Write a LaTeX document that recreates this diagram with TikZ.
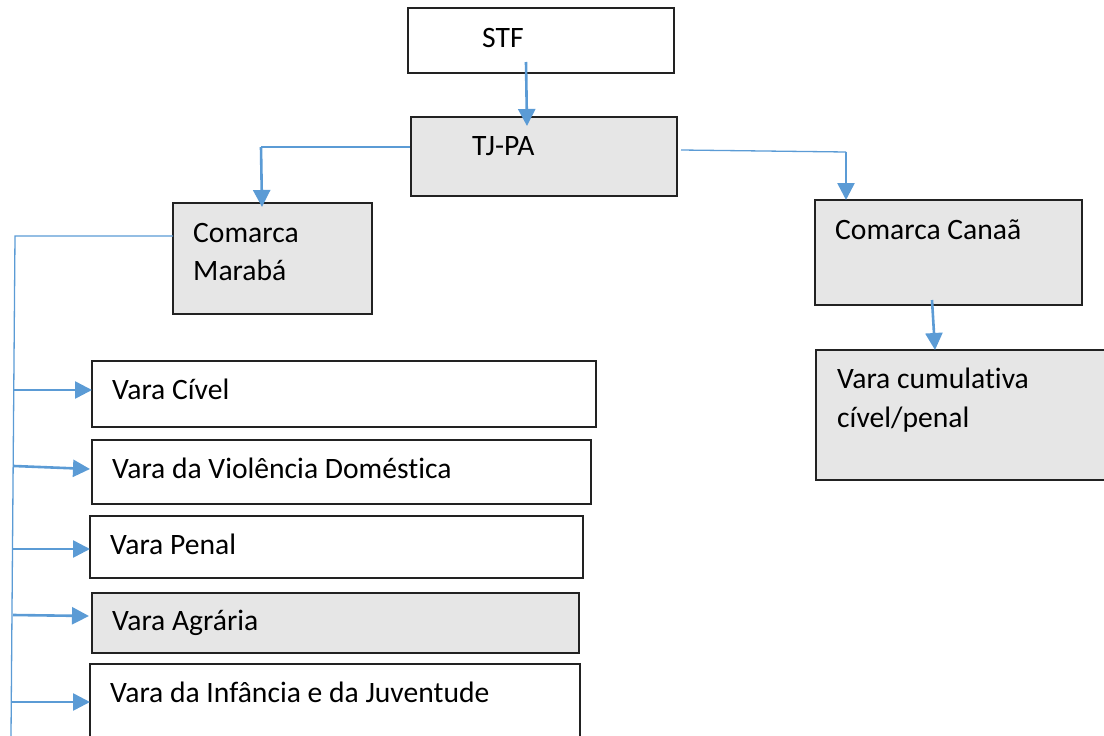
\documentclass[tikz,border=0pt]{standalone}
\usepackage{fontspec}
\setmainfont{Carlito}[Ligatures=NoCommon]
\usetikzlibrary{arrows.meta}
\definecolor{conn}{HTML}{5B9BD5}
\definecolor{boxgray}{HTML}{E6E6E6}
\definecolor{boxline}{HTML}{222222}
\begin{document}
\begin{tikzpicture}[x=1pt,y=-1pt,
  box/.style={draw=boxline,line width=1.3pt,rectangle,anchor=north west,inner sep=0pt,outer sep=0pt},
  grayfill/.style={fill=boxgray},
  txt/.style={anchor=base west,inner sep=0pt,font=\fontsize{29.6}{38}\selectfont,text=black},
  thin/.style={draw=conn,line width=1.3pt},
  arr/.style={draw=conn,line width=2.6pt,-{Triangle[length=17pt,width=17pt]}}]
\useasboundingbox (0,0) rectangle (1104,736);
\clip (0,0) rectangle (1104,736);
% boxes
\node[box,minimum width=266pt,minimum height=65pt] (stf) at (408,8) {};
\node[box,grayfill,minimum width=266pt,minimum height=79pt] (tjpa) at (411,117) {};
\node[box,grayfill,minimum width=199pt,minimum height=111pt] (maraba) at (173,203) {};
\node[box,grayfill,minimum width=267pt,minimum height=105pt] (canaa) at (815,200) {};
\node[box,grayfill,minimum width=320pt,minimum height=130pt] (cumul) at (816,350) {};
\node[box,minimum width=504pt,minimum height=66pt] (civel) at (92,361) {};
\node[box,minimum width=499pt,minimum height=64pt] (violencia) at (92,440) {};
\node[box,minimum width=493pt,minimum height=62pt] (penal) at (90,516) {};
\node[box,grayfill,minimum width=487pt,minimum height=60pt] (agraria) at (92,593) {};
\node[box,minimum width=490pt,minimum height=120pt] (infancia) at (90,664) {};
% texts
\node[txt] (tstf) at (482,47) {STF};
\node[txt] (ttjpa) at (472,155) {TJ-PA};
\node[txt] (tmar1) at (193,242) {Comarca};
\node[txt] (tmar2) at (193,280) {Marabá};
\node[txt] (tcan) at (835,239) {Comarca Canaã};
\node[txt] (tcum1) at (837,388) {Vara cumulativa};
\node[txt] (tcum2) at (837,427) {cível/penal};
\node[txt] (tciv) at (112,399) {Vara Cível};
\node[txt] (tvio) at (112,478) {Vara da Violência Domést\kern0pt ica};
\node[txt] (tpen) at (110,554) {Vara Penal};
\node[txt] (tagr) at (112,630) {Vara Agrária};
\node[txt] (tinf) at (110,702) {Vara da Infância e da Juventude};
% connector points
\coordinate (s1) at (526,62);
\coordinate (s2) at (527,126);
\coordinate (l0) at (410,147);
\coordinate (l1) at (261,147);
\coordinate (l2) at (262,207);
\coordinate (r0) at (681,150);
\coordinate (r1) at (846,152);
\coordinate (r2) at (846,200);
\coordinate (c1) at (932,300);
\coordinate (c2) at (935,350);
\coordinate (m0) at (173,236);
\coordinate (m1) at (15,236);
\coordinate (m2) at (11,736);
\coordinate (b1) at (14,390);
\coordinate (b2) at (14,466);
\coordinate (b3) at (13,549);
\coordinate (b4) at (13,615);
\coordinate (b5) at (12,702);
\coordinate (e1) at (92,390);
\coordinate (e2) at (90,469);
\coordinate (e3) at (90,549);
\coordinate (e4) at (89,616);
\coordinate (e5) at (90,702);
% connectors
\draw[arr] (s1) -- (s2);
\draw[thin] (l0) -- (l1);
\draw[arr] (l1) -- (l2);
\draw[thin] (r0) -- (r1);
\draw[arr] (r1) -- (r2);
\draw[arr] (c1) -- (c2);
\draw[thin] (m0) -- (m1) -- (m2);
\draw[arr] (b1) -- (e1);
\draw[arr] (b2) -- (e2);
\draw[arr] (b3) -- (e3);
\draw[arr] (b4) -- (e4);
\draw[arr] (b5) -- (e5);
\end{tikzpicture}
\end{document}
